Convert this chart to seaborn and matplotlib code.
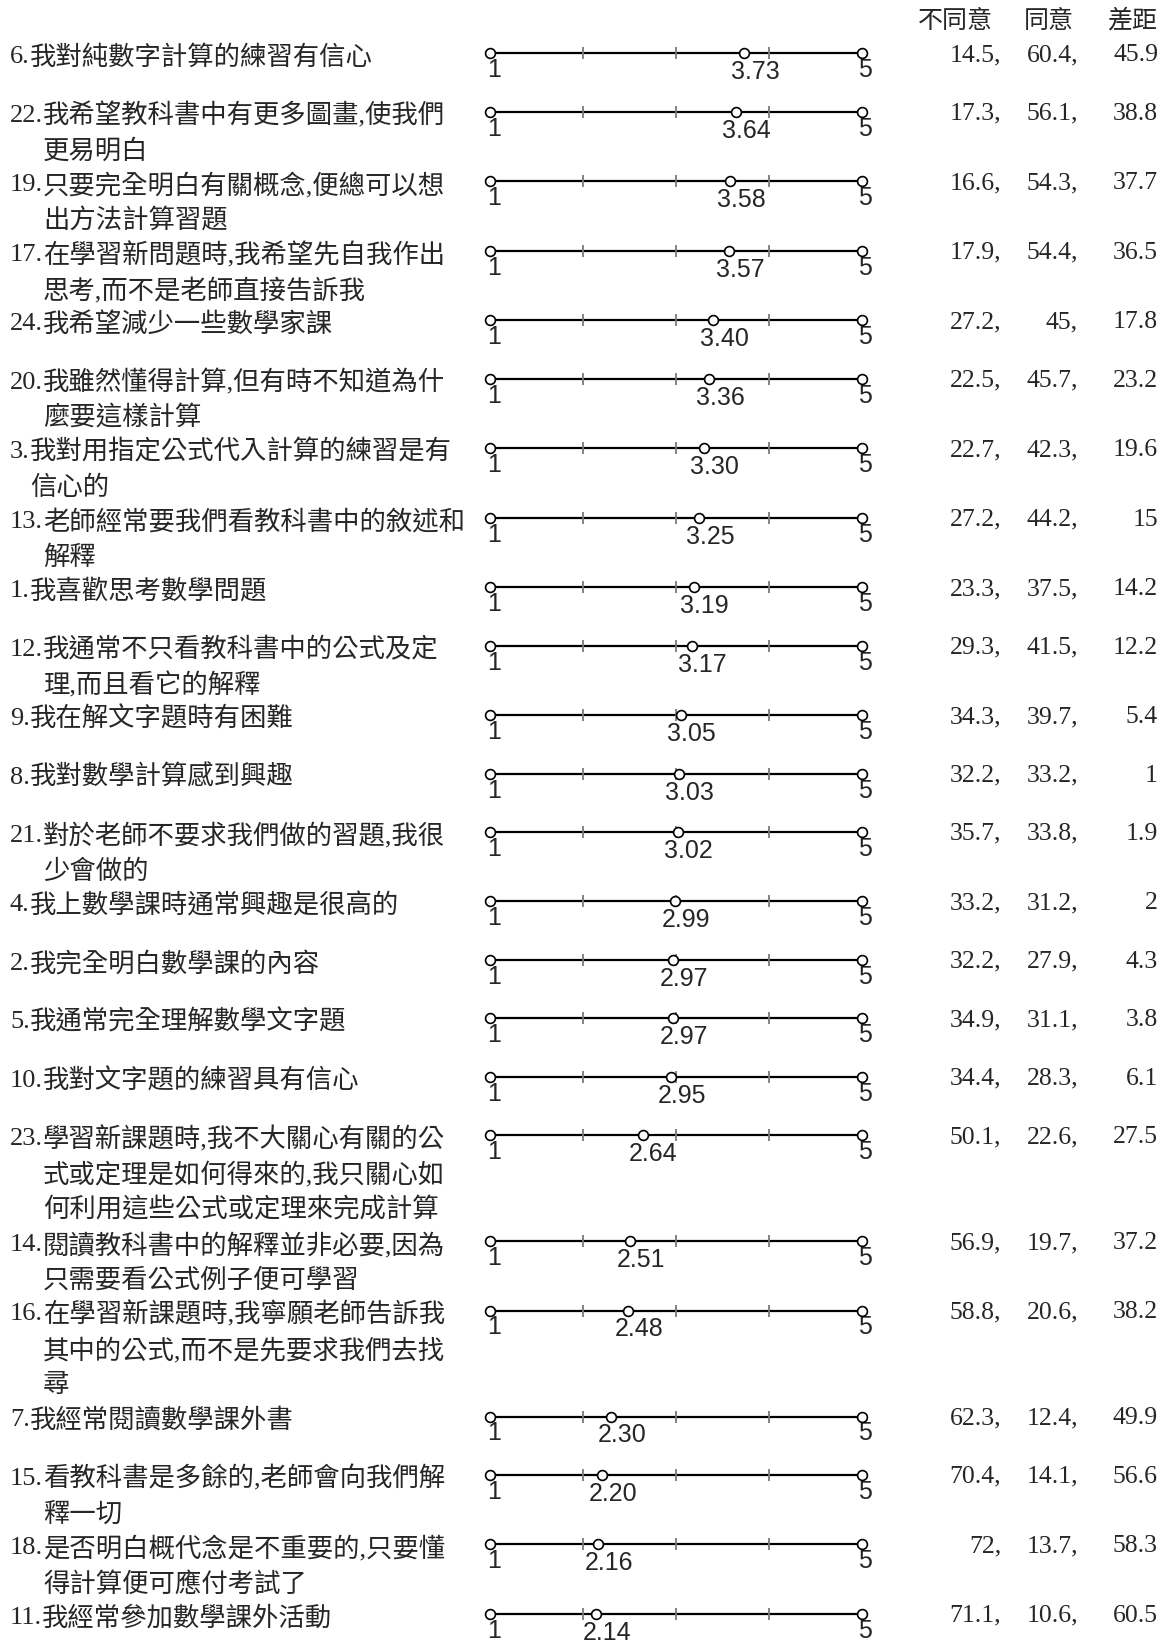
import numpy as np
import pandas as pd
import seaborn as sns
import matplotlib.pyplot as plt
import matplotlib.transforms as mtransforms

# question labels (prefix number, text lines as wrapped in the original)
prefixes = ["6.", "22.", "19.", "17.", "24.", "20.", "3.", "13.", "1.", "12.",
            "9.", "8.", "21.", "4.", "2.", "5.", "10.", "23.", "14.", "16.",
            "7.", "15.", "18.", "11."]
bodies = [
    ["我對純數字計算的練習有信心"],
    ["我希望教科書中有更多圖畫,使我們", "更易明白"],
    ["只要完全明白有關概念,便總可以想", "出方法計算習題"],
    ["在學習新問題時,我希望先自我作出", "思考,而不是老師直接告訴我"],
    ["我希望減少一些數學家課"],
    ["我雖然懂得計算,但有時不知道為什", "麼要這樣計算"],
    ["我對用指定公式代入計算的練習是有", "信心的"],
    ["老師經常要我們看教科書中的敘述和", "解釋"],
    ["我喜歡思考數學問題"],
    ["我通常不只看教科書中的公式及定", "理,而且看它的解釋"],
    ["我在解文字題時有困難"],
    ["我對數學計算感到興趣"],
    ["對於老師不要求我們做的習題,我很", "少會做的"],
    ["我上數學課時通常興趣是很高的"],
    ["我完全明白數學課的內容"],
    ["我通常完全理解數學文字題"],
    ["我對文字題的練習具有信心"],
    ["學習新課題時,我不大關心有關的公", "式或定理是如何得來的,我只關心如", "何利用這些公式或定理來完成計算"],
    ["閱讀教科書中的解釋並非必要,因為", "只需要看公式例子便可學習"],
    ["在學習新課題時,我寧願老師告訴我", "其中的公式,而不是先要求我們去找", "尋"],
    ["我經常閱讀數學課外書"],
    ["看教科書是多餘的,老師會向我們解", "釋一切"],
    ["是否明白概代念是不重要的,只要懂", "得計算便可應付考試了"],
    ["我經常參加數學課外活動"],
]
means = [3.73, 3.64, 3.58, 3.57, 3.40, 3.36, 3.30, 3.25, 3.19, 3.17, 3.05, 3.03,
         3.02, 2.99, 2.97, 2.97, 2.95, 2.64, 2.51, 2.48, 2.30, 2.20, 2.16, 2.14]
disagree = [14.5, 17.3, 16.6, 17.9, 27.2, 22.5, 22.7, 27.2, 23.3, 29.3, 34.3, 32.2,
            35.7, 33.2, 32.2, 34.9, 34.4, 50.1, 56.9, 58.8, 62.3, 70.4, 72, 71.1]
agree = [60.4, 56.1, 54.3, 54.4, 45, 45.7, 42.3, 44.2, 37.5, 41.5, 39.7, 33.2,
         33.8, 31.2, 27.9, 31.1, 28.3, 22.6, 19.7, 20.6, 12.4, 14.1, 13.7, 10.6]
gap = [45.9, 38.8, 37.7, 36.5, 17.8, 23.2, 19.6, 15, 14.2, 12.2, 5.4, 1,
       1.9, 2, 4.3, 3.8, 6.1, 27.5, 37.2, 38.2, 49.9, 56.6, 58.3, 60.5]
headers = ["不同意", "同意", "差距"]
scale_min, scale_max = 1, 5
scale_ticks = [2, 3, 4]

sns.set_theme(style="white")
label_font = ["Liberation Serif", "Noto Sans CJK TC"]
cjk_font = ["Noto Sans CJK TC", "DejaVu Sans"]

W, H = 1164, 1643
fig = plt.figure(figsize=(W / 100, H / 100), dpi=100)
ax = fig.add_axes([0, 0, 1, 1])
# scale 1 sits at x=490px and 5 at x=862px
unit = (862 - 490) / (scale_max - scale_min)
ax.set_xlim(scale_min - 490 / unit, scale_max + (W - 862) / unit)
ax.set_ylim(H, 0)
ax.axis("off")
blend = mtransforms.blended_transform_factory(ax.transAxes, ax.transData)

# row positions (pixels from top), row height depends on label line count
row_y = []
y = 53.4
for b in bodies:
    row_y.append(y)
    y += {1: 58.4, 2: 69.5, 3: 106}[len(b)]
row_y = np.array(row_y)

# scale lines
ax.hlines(row_y, scale_min, scale_max, color="black", lw=1.6, zorder=2)

tick_df = pd.DataFrame([(t, yy) for yy in row_y for t in scale_ticks], columns=["x", "y"])
sns.scatterplot(data=tick_df, x="x", y="y", marker="|", s=70, color="#7a7a7a",
                linewidth=1.3, zorder=3, ax=ax, legend=False)

pts = pd.DataFrame([(v, yy) for yy, m in zip(row_y, means) for v in (scale_min, m, scale_max)],
                   columns=["x", "y"])
sns.scatterplot(data=pts, x="x", y="y", marker="o", s=50, color="white",
                edgecolor="black", linewidth=1.2, zorder=4, ax=ax, legend=False)
ax.set_xlabel("")
ax.set_ylabel("")

for yy, m in zip(row_y, means):
    ax.annotate("1", (scale_min, yy), xytext=(4, -17), textcoords="offset pixels",
                ha="center", va="center", fontsize=18, family="Liberation Sans")
    ax.annotate("5", (scale_max, yy), xytext=(3, -17), textcoords="offset pixels",
                ha="center", va="center", fontsize=18, family="Liberation Sans")
    ax.annotate(f"{m:.2f}", (m, yy), xytext=(11, -19), textcoords="offset pixels",
                ha="center", va="center", fontsize=18, family="Liberation Sans")

# labels
fig.canvas.draw()
renderer = fig.canvas.get_renderer()
pitch = 35.5
for yy, pre, body in zip(row_y, prefixes, bodies):
    t = ax.text(10 / W, yy + 4, pre, transform=blend, ha="left", va="center",
                fontsize=19, family=label_font)
    x_body = t.get_window_extent(renderer).x1 / W
    for k, line in enumerate(body):
        ax.text(x_body, yy + 4 + k * pitch, line, transform=blend, ha="left",
                va="center", fontsize=19, family=label_font)

# numbers on the right
for yy, d, a, g in zip(row_y, disagree, agree, gap):
    for xr, txt in zip((1001, 1078, 1158), (f"{d:g},", f"{a:g},", f"{g:g}")):
        ax.text(xr / W, yy + 2, txt, transform=blend, ha="right", va="center",
                fontsize=18.5, family="Liberation Serif")

for xc, h in zip((955, 1049, 1132), headers):
    ax.text(xc / W, 21, h, transform=blend, ha="center", va="center",
            fontsize=18, family=cjk_font)

fig.savefig("out.png", dpi=100)
